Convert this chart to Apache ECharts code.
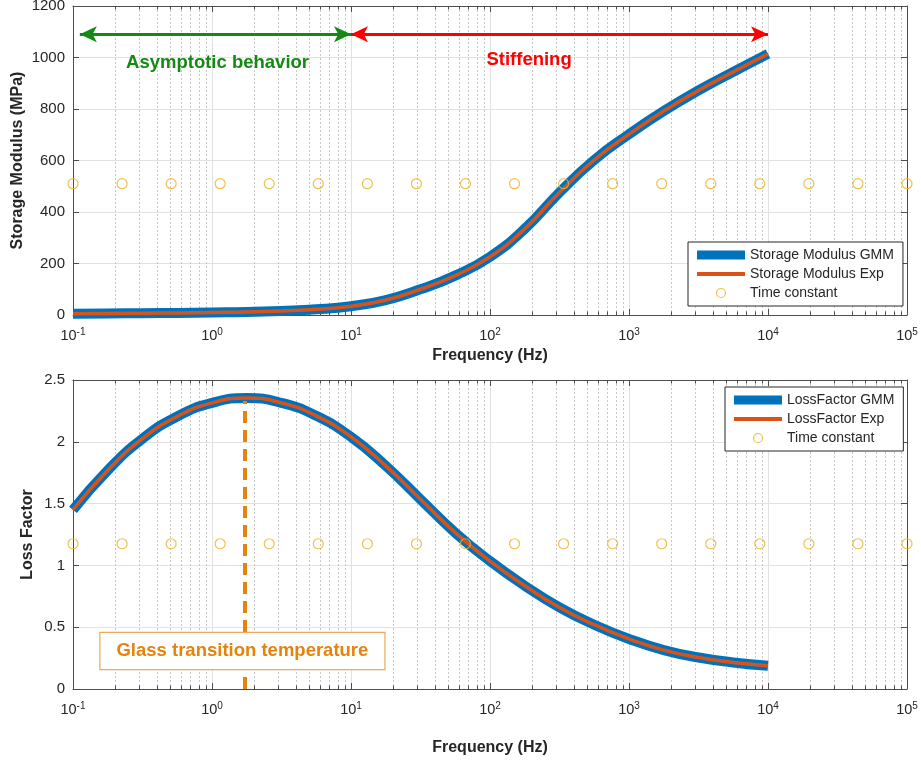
<!DOCTYPE html>
<html><head><meta charset="utf-8">
<script src="https://cdn.jsdelivr.net/npm/echarts@6/dist/echarts.min.js"></script>
<style>html,body{margin:0;padding:0;background:#fff}#c{width:921px;height:769px}</style>
</head><body><div id="c"></div>
<script>
// ---- data ----
const storageFreq = [0.1, 0.178, 0.316, 0.562, 1, 1.78, 3.16, 5.62, 10, 17.8, 31.6, 56.2, 100, 178, 316, 562, 1000, 1778, 3162, 5623, 10000];
const storageVal  = [5, 6, 7, 8, 10, 12, 16, 22, 34, 58, 100, 153, 226, 335, 476, 602, 702, 792, 872, 944, 1014];

const lossFreq = [0.1, 0.178, 0.316, 0.562, 1, 1.78, 3.16, 5.62, 10, 17.8, 31.6, 56.2, 100, 178, 316, 562, 1000, 1778, 3162, 5623, 10000];
const lossVal  = [1.45, 1.77, 2.025, 2.205, 2.315, 2.355, 2.315, 2.21, 2.04, 1.805, 1.535, 1.265, 1.035, 0.835, 0.66, 0.52, 0.405, 0.315, 0.255, 0.215, 0.188];

const tcFreq = [0.1, 0.2254, 0.508, 1.145, 2.581, 5.817, 13.11, 29.55, 66.6, 150.1, 338.3, 762.6, 1719, 3875, 8733, 19684, 44367, 100000];
const tcStorage = [510, 510, 510, 510, 510, 510, 510, 510, 510, 510, 510, 510, 510, 510, 510, 510, 510, 510];
const tcLoss = [1.175, 1.175, 1.175, 1.175, 1.175, 1.175, 1.175, 1.175, 1.175, 1.175, 1.175, 1.175, 1.175, 1.175, 1.175, 1.175, 1.175, 1.175];

const storageTicks = [0, 200, 400, 600, 800, 1000, 1200];
const lossTicks = [0, 0.5, 1, 1.5, 2, 2.5];
const freqRange = [0.1, 100000];

// annotations
const arrowY = 1090;
const asymptoticRange = [0.112, 10];
const stiffeningRange = [10, 10000];
const glassFreq = 1.73;
const glassTop = 2.33;

// ---- styling ----
const FONT = '"Liberation Sans", Arial, Helvetica, sans-serif';
const TXT = '#262626';
const AX = '#4d4d4d';
const BLUE = '#0072BD', ORANGE = '#D95319', YEL = '#EDB120';
const GREEN = '#138A13', RED = '#FF0000', GLASS = '#E5830E';

const pair = (xs, ys) => xs.map((x, i) => [x, ys[i]]);

// minor gridline positions (2..9 x 10^k) – axis decoration
const minor = [];
for (let k = -1; k <= 4; k++) for (let m = 2; m <= 9; m++) minor.push([Number((m * Math.pow(10, k)).toPrecision(6)), 0]);

function minorSeries(xi, yi) {
  return {
    type: 'custom', name: '_minor' + xi, xAxisIndex: xi, yAxisIndex: yi, silent: true, z: 1,
    data: minor,
    renderItem: function (params, api) {
      const cs = params.coordSys;
      const x = Math.round(api.coord([api.value(0), api.value(1)])[0]) + 0.5;
      const top = cs.y, bot = cs.y + cs.height;
      return { type: 'group', children: [
        { type: 'line', shape: { x1: x, y1: top, x2: x, y2: bot }, style: { stroke: '#c8c8c8', lineWidth: 1, lineDash: [2, 2] } },
        { type: 'line', shape: { x1: x, y1: bot, x2: x, y2: bot - 3.5 }, style: { stroke: AX, lineWidth: 1 } },
        { type: 'line', shape: { x1: x, y1: top, x2: x, y2: top + 3.5 }, style: { stroke: AX, lineWidth: 1 } }
      ] };
    }
  };
}

function xAxisDef(gi, pos, main, gap) {
  return {
    type: 'log', logBase: 10, min: freqRange[0], max: freqRange[1], gridIndex: gi, position: pos,
    axisLine: { show: true, onZero: false, lineStyle: { color: AX, width: 1 } },
    axisTick: { show: true, inside: true, length: 6, lineStyle: { color: AX } },
    axisLabel: main ? {
      show: true, margin: 12,
      formatter: function (v) { const e = Math.round(Math.log10(v)); return '{b|10}{s|' + e + '}'; },
      rich: {
        b: { fontSize: 14.5, color: TXT, fontFamily: FONT, lineHeight: 18 },
        s: { fontSize: 10, color: TXT, fontFamily: FONT, verticalAlign: 'top', lineHeight: 10 }
      }
    } : { show: false },
    splitLine: main ? { show: true, lineStyle: { color: '#e2e2e2', width: 1 } } : { show: false },
    minorTick: { show: false },
    name: main ? 'Frequency (Hz)' : '', nameLocation: 'middle', nameGap: gap, nameMoveOverlap: false,
    nameTextStyle: { fontWeight: 'bold', fontSize: 16, color: TXT, fontFamily: FONT }
  };
}

function yAxisDef(gi, pos, main, ticks, name, gap) {
  return {
    type: 'value', gridIndex: gi, position: pos, min: ticks[0], max: ticks[ticks.length - 1],
    interval: ticks[1] - ticks[0],
    axisLine: { show: true, onZero: false, lineStyle: { color: AX, width: 1 } },
    axisTick: { show: true, inside: true, length: 6, lineStyle: { color: AX } },
    axisLabel: main ? { show: true, margin: 8, fontSize: 15, color: TXT, fontFamily: FONT,
      formatter: function (v) { return String(v); } } : { show: false },
    splitLine: main ? { show: true, lineStyle: { color: '#e2e2e2', width: 1 } } : { show: false },
    name: main ? name : '', nameLocation: 'middle', nameGap: gap, nameMoveOverlap: false,
    nameTextStyle: { fontWeight: 'bold', fontSize: 16, color: TXT, fontFamily: FONT }
  };
}

function legendDef(left, top, names) {
  return {
    orient: 'vertical', left: left, top: top, selectedMode: false,
    itemWidth: 48, itemHeight: 9, itemGap: 5, padding: [6, 9, 6, 9],
    borderColor: TXT, borderWidth: 1, backgroundColor: '#fff', borderRadius: 0,
    textStyle: { fontSize: 14, color: TXT, fontFamily: FONT },
    data: [
      { name: names[0], icon: 'rect', itemStyle: { color: BLUE } },
      { name: names[1], icon: 'path://M0,0H48V4H0Z', itemStyle: { color: ORANGE } },
      { name: names[2], icon: 'circle', itemStyle: { color: 'rgba(255,255,255,0)', borderColor: YEL, borderWidth: 1.2 } }
    ]
  };
}

const arrowSize = [12, 17];

const option = {
  animation: false,
  backgroundColor: '#fff',
  textStyle: { fontFamily: FONT },
  grid: [
    { left: 73, right: 14, top: 6, height: 309, outerBoundsMode: 'none', containLabel: false },
    { left: 73, right: 14, top: 380, height: 309, outerBoundsMode: 'none', containLabel: false }
  ],
  xAxis: [
    xAxisDef(0, 'bottom', true, 33),
    xAxisDef(0, 'top', false, 0),
    xAxisDef(1, 'bottom', true, 51),
    xAxisDef(1, 'top', false, 0)
  ],
  yAxis: [
    yAxisDef(0, 'left', true, storageTicks, 'Storage Modulus (MPa)', 47),
    yAxisDef(0, 'right', false, storageTicks, '', 0),
    yAxisDef(1, 'left', true, lossTicks, 'Loss Factor', 37),
    yAxisDef(1, 'right', false, lossTicks, '', 0)
  ],
  legend: [
    legendDef(688, 242, ['Storage Modulus GMM', 'Storage Modulus Exp', 'Time constant']),
    legendDef(725, 387, ['LossFactor GMM', 'LossFactor Exp', 'Time constant'])
  ],
  series: [
    minorSeries(0, 0),
    minorSeries(2, 2),
    // top plot
    { type: 'line', name: 'Storage Modulus GMM', xAxisIndex: 0, yAxisIndex: 0, data: pair(storageFreq, storageVal),
      smooth: true, showSymbol: false, symbol: 'none', lineStyle: { color: BLUE, width: 10 }, itemStyle: { color: BLUE }, z: 3 },
    { type: 'line', name: 'Storage Modulus Exp', xAxisIndex: 0, yAxisIndex: 0, data: pair(storageFreq, storageVal),
      smooth: true, showSymbol: false, symbol: 'none', lineStyle: { color: ORANGE, width: 3.5 }, itemStyle: { color: ORANGE }, z: 4 },
    { type: 'scatter', name: 'Time constant', xAxisIndex: 0, yAxisIndex: 0, data: pair(tcFreq, tcStorage),
      symbol: 'circle', symbolSize: 10, itemStyle: { color: 'rgba(255,255,255,0)', borderColor: YEL, borderWidth: 1.2 }, z: 5 },
    { type: 'line', name: '_annotTop', xAxisIndex: 0, yAxisIndex: 0, data: [], silent: true, z: 6,
      markLine: {
        silent: true, symbol: ['arrow', 'arrow'], label: { show: false },
        data: [
          [{ coord: [asymptoticRange[0], arrowY], symbolSize: arrowSize, lineStyle: { color: GREEN, width: 3, type: 'solid' }, itemStyle: { color: GREEN } },
           { coord: [asymptoticRange[1], arrowY], symbolSize: arrowSize }],
          [{ coord: [stiffeningRange[0], arrowY], symbolSize: arrowSize, lineStyle: { color: RED, width: 3, type: 'solid' }, itemStyle: { color: RED } },
           { coord: [stiffeningRange[1], arrowY], symbolSize: arrowSize }]
        ]
      },
      markPoint: {
        silent: true, symbol: 'circle', symbolSize: 0,
        label: { show: true, position: 'inside', fontWeight: 'bold', fontSize: 18.5, fontFamily: FONT },
        data: [
          { coord: [1.096, 980], label: { formatter: 'Asymptotic behavior', color: GREEN } },
          { coord: [191, 990], label: { formatter: 'Stiffening', color: RED } }
        ]
      }
    },
    // bottom plot
    { type: 'line', name: '_glassLine', xAxisIndex: 2, yAxisIndex: 2, data: [], silent: true, z: 2,
      markLine: {
        silent: true, symbol: ['none', 'none'], label: { show: false },
        lineStyle: { color: GLASS, width: 4, type: [12, 7] },
        data: [[{ coord: [glassFreq, 0] }, { coord: [glassFreq, glassTop] }]]
      }
    },
    { type: 'line', name: 'LossFactor GMM', xAxisIndex: 2, yAxisIndex: 2, data: pair(lossFreq, lossVal),
      smooth: true, showSymbol: false, symbol: 'none', lineStyle: { color: BLUE, width: 10 }, itemStyle: { color: BLUE }, z: 3 },
    { type: 'line', name: 'LossFactor Exp', xAxisIndex: 2, yAxisIndex: 2, data: pair(lossFreq, lossVal),
      smooth: true, showSymbol: false, symbol: 'none', lineStyle: { color: ORANGE, width: 3.5 }, itemStyle: { color: ORANGE }, z: 4 },
    { type: 'scatter', name: 'Time constant', xAxisIndex: 2, yAxisIndex: 2, data: pair(tcFreq, tcLoss),
      symbol: 'circle', symbolSize: 10, itemStyle: { color: 'rgba(255,255,255,0)', borderColor: YEL, borderWidth: 1.2 }, z: 5 },
    { type: 'line', name: '_glassText', xAxisIndex: 2, yAxisIndex: 2, data: [], silent: true, z: 10,
      markPoint: {
        silent: true, symbol: 'circle', symbolSize: 0,
        label: { show: true, position: 'inside', formatter: 'Glass transition temperature', color: GLASS,
          fontWeight: 'bold', fontSize: 18.5, fontFamily: FONT, backgroundColor: '#fff',
          borderColor: '#EFA75A', borderWidth: 1.2, padding: [7, 16, 7, 16], lineHeight: 22 },
        data: [{ coord: [1.655, 0.307] }]
      }
    }
  ]
};

const chart = echarts.init(document.getElementById('c'), null, { renderer: 'canvas' });
chart.setOption(option);
</script>
</body></html>
